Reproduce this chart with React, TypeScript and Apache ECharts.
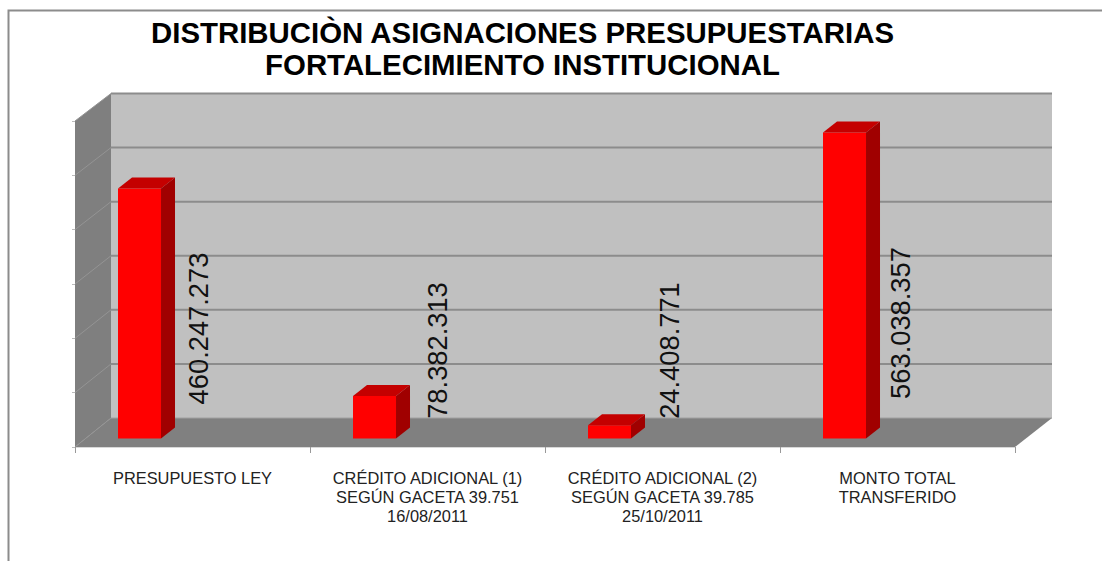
import React, { useEffect, useRef } from "react";
import * as echarts from "echarts";

const categories = [
  "PRESUPUESTO LEY",
  "CRÉDITO ADICIONAL (1)\nSEGÚN GACETA 39.751\n16/08/2011",
  "CRÉDITO ADICIONAL (2)\nSEGÚN GACETA 39.785\n25/10/2011",
  "MONTO TOTAL\nTRANSFERIDO",
];
const values = [460247273, 78382313, 24408771, 563038357];
const valueLabels = ["460.247.273", "78.382.313", "24.408.771", "563.038.357"];
const gridValues = [0, 100000000, 200000000, 300000000, 400000000, 500000000, 600000000];
const titleLines = "DISTRIBUCIÒN ASIGNACIONES PRESUPUESTARIAS\nFORTALECIMIENTO INSTITUCIONAL";

const FONT = '"Liberation Sans", Arial, sans-serif';
const G = { left: 75, top: 121, width: 940, height: 326 };
const DEPTH_X = 37;
const backY = (y: number) => 418 - (G.top + G.height - y) * 0.9954;
const BAR_DX = 14;
const BAR_DY = 11;
const BAR_LIFT = 8.5;
// layout of the rotated value labels
const labelDX = [80, 84, 81, 77];
const labelCY = [328.5, 350.5, 350.5, 323];

const renderWalls = (params: any) => {
  const c = params.coordSys;
  const x0 = c.x, x1 = c.x + c.width, yT = c.y, yB = c.y + c.height;
  const bx0 = x0 + DEPTH_X - 1, bx1 = x1 + DEPTH_X;
  const poly = (points: number[][], fill: string) => ({
    type: "polygon",
    shape: { points },
    style: { fill },
  });
  return {
    type: "group",
    children: [
      poly([[bx0, backY(yT)], [bx1, backY(yT)], [bx1, backY(yB)], [bx0, backY(yB)]], "#c0c0c0"),
      poly([[x0, yT], [bx0, backY(yT)], [bx0, backY(yB)], [x0, yB]], "#7f7f7f"),
      poly([[x0, yB], [bx0, backY(yB)], [bx1, backY(yB)], [x1, yB]], "#808080"),
    ],
  };
};

const renderGrid = (params: any, api: any) => {
  const c = params.coordSys;
  const y = api.coord([0, api.value(1)])[1];
  const isFloor = api.value(1) === 0;
  const x0 = c.x, x1 = c.x + c.width;
  const bx0 = x0 + DEPTH_X - 1, bx1 = x1 + DEPTH_X;
  const by = backY(y);
  const children: any[] = [
    {
      type: "line",
      shape: { x1: x0, y1: y, x2: bx0, y2: by },
      style: { stroke: "#949494", lineWidth: 1 },
    },
  ];
  children.push({
    type: "line",
    shape: { x1: bx0, y1: by, x2: bx1, y2: by },
    style: { stroke: isFloor ? "#a0a0a0" : "#8c8c8c", lineWidth: isFloor ? 1 : 2 },
  });
  return { type: "group", children };
};

const renderBar = (params: any, api: any) => {
  const i = api.value(0);
  const band = api.size([1, 0])[0];
  const cx = api.coord([i, 0])[0];
  const w = band * 0.183;
  const l = cx - band / 2 + w;
  const r = l + w;
  const b = api.coord([i, 0])[1] - BAR_LIFT;
  const t = api.coord([i, api.value(1)])[1] - BAR_LIFT;
  const poly = (points: number[][], fill: string) => ({
    type: "polygon",
    shape: { points },
    style: { fill },
  });
  return {
    type: "group",
    children: [
      poly([[l, b], [r, b], [r, t], [l, t]], "#ff0000"),
      poly([[l, t], [r, t], [r + BAR_DX, t - BAR_DY], [l + BAR_DX, t - BAR_DY]], "#c40000"),
      poly([[r, b], [r + BAR_DX, b - BAR_DY], [r + BAR_DX, t - BAR_DY], [r, t]], "#a00000"),
    ],
  };
};

const renderLabel = (params: any, api: any) => {
  const i = api.value(0);
  const band = api.size([1, 0])[0];
  const cx = api.coord([i, 0])[0];
  const l = cx - band / 2 + band * 0.183;
  return {
    type: "text",
    x: l + labelDX[i],
    y: labelCY[i],
    rotation: Math.PI / 2,
    style: {
      text: valueLabels[i],
      fontSize: 27.3,
      fontFamily: FONT,
      fill: "#111111",
      align: "center",
      verticalAlign: "middle",
    },
  };
};

export default function App() {
  const ref = useRef<HTMLDivElement>(null);
  useEffect(() => {
    const chart = echarts.init(ref.current!, null, { renderer: "svg" });
    const barData = values.map((v, i) => [i, v]);
    chart.setOption({
      animation: false,
      backgroundColor: "#ffffff",
      title: {
        text: titleLines,
        left: 517.5,
        top: 11,
        textAlign: "center",
        textStyle: {
          fontFamily: FONT,
          fontWeight: "bold",
          fontSize: 29.4,
          lineHeight: 32,
          color: "#000000",
        },
      },
      graphic: [
        {
          type: "rect",
          silent: true,
          shape: { x: 8.5, y: 10.5, width: 1200, height: 700 },
          style: { fill: "none", stroke: "#8c8c8c", lineWidth: 2 },
          z: -1,
        },
      ],
      grid: { left: G.left, top: G.top, width: G.width, height: G.height },
      xAxis: {
        type: "category",
        data: categories,
        axisLine: { show: true, lineStyle: { color: "#d8d8d8", width: 1 } },
        axisTick: { show: true, length: 6, alignWithLabel: false, lineStyle: { color: "#999999" } },
        axisLabel: {
          interval: 0,
          margin: 21,
          fontFamily: FONT,
          fontSize: 16.4,
          lineHeight: 19,
          color: "#222222",
        },
        splitLine: { show: false },
      },
      yAxis: {
        type: "value",
        min: 0,
        max: 600000000,
        interval: 100000000,
        axisLine: { show: true, lineStyle: { color: "#d8d8d8" } },
        axisTick: { show: true, length: 3, lineStyle: { color: "#bbbbbb" } },
        axisLabel: { show: false },
        splitLine: { show: false },
      },
      series: [
        { type: "custom", z: 1, silent: true, renderItem: renderWalls, data: [[0, 0]], encode: { x: 0, y: 1 } },
        {
          type: "custom",
          z: 2,
          silent: true,
          renderItem: renderGrid,
          data: gridValues.map((v) => [0, v]),
          encode: { x: 0, y: 1 },
        },
        { type: "custom", z: 3, silent: true, renderItem: renderBar, data: barData, encode: { x: 0, y: 1 } },
        { type: "custom", z: 4, silent: true, renderItem: renderLabel, data: barData, encode: { x: 0, y: 1 } },
      ],
    });
    return () => chart.dispose();
  }, []);
  return <div ref={ref} style={{ position: "absolute", left: 0, top: 0, width: 1102, height: 561 }} />;
}
